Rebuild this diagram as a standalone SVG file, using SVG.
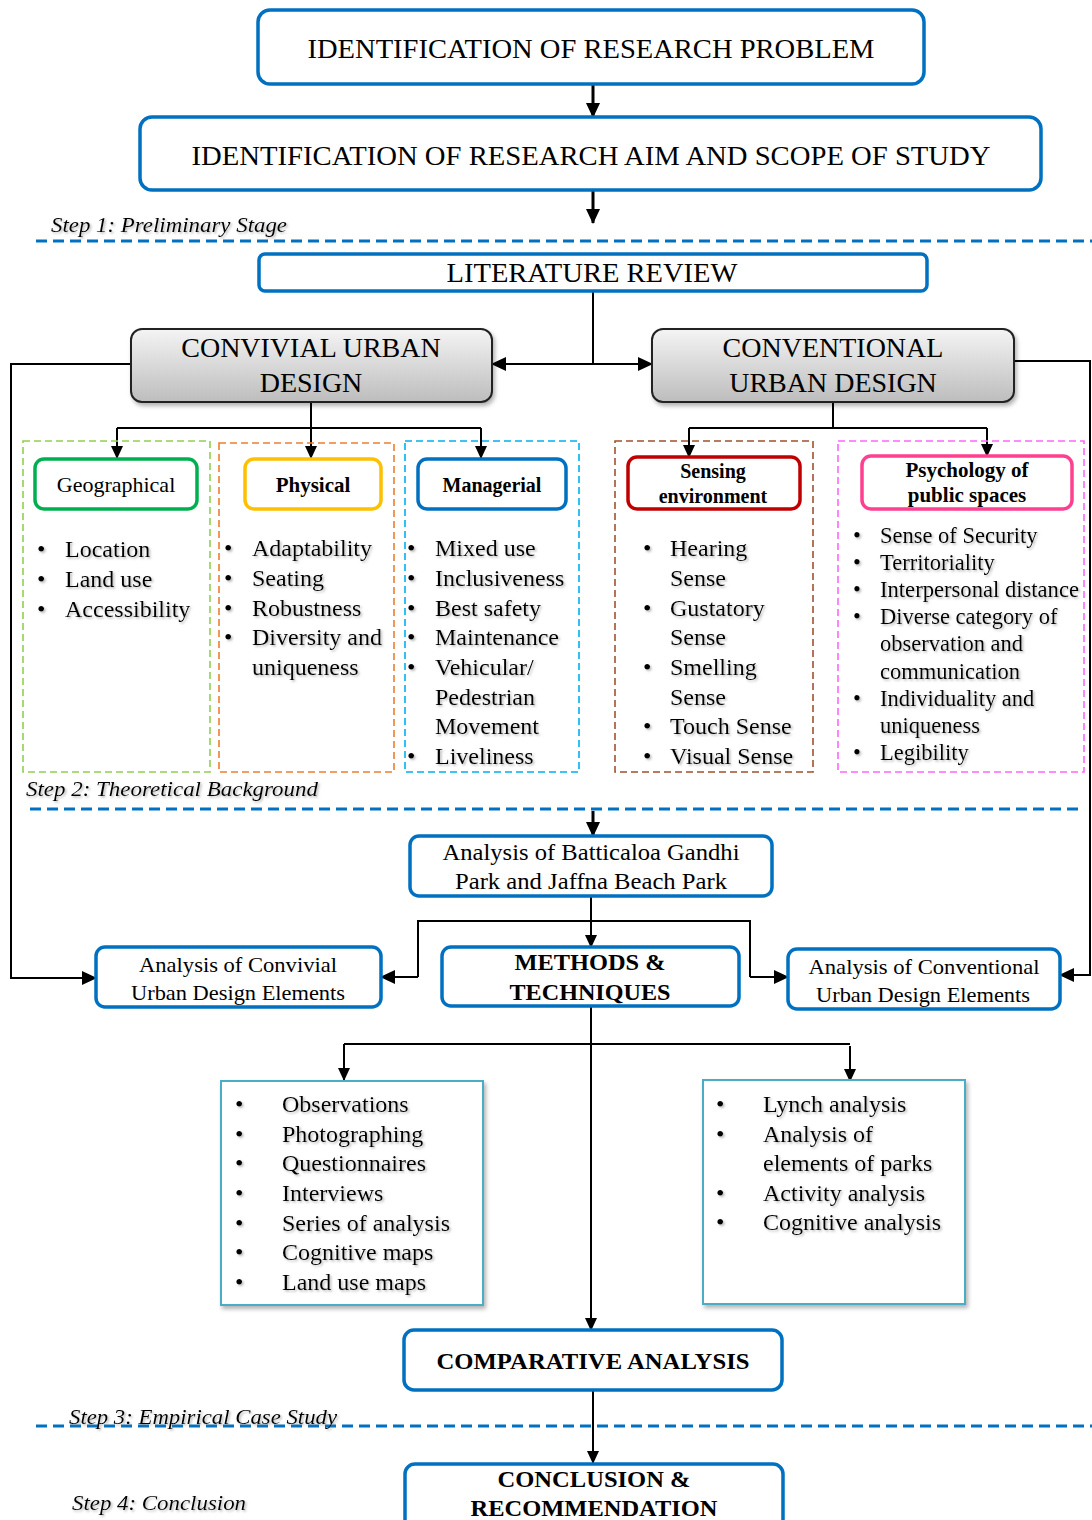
<svg xmlns="http://www.w3.org/2000/svg" width="1092" height="1520" viewBox="0 0 1092 1520">
<defs>
  <marker id="ah" markerUnits="userSpaceOnUse" markerWidth="16" markerHeight="14" refX="14" refY="7" orient="auto">
    <path d="M0,0 L15,7 L0,14 z" fill="#000"/>
  </marker>
  <marker id="ahs" markerUnits="userSpaceOnUse" markerWidth="14" markerHeight="12" refX="12" refY="6" orient="auto">
    <path d="M0,0 L13,6 L0,12 z" fill="#000"/>
  </marker>
  <linearGradient id="gray" x1="0" y1="0" x2="0" y2="1">
    <stop offset="0" stop-color="#F4F4F4"/>
    <stop offset="1" stop-color="#BDBDBD"/>
  </linearGradient>
  <filter id="bs" x="-10%" y="-10%" width="130%" height="140%">
    <feDropShadow dx="2" dy="3" stdDeviation="2" flood-color="#000" flood-opacity="0.3"/>
  </filter>
  <filter id="ts" x="-5%" y="-20%" width="115%" height="150%">
    <feDropShadow dx="1.5" dy="1.5" stdDeviation="1" flood-color="#777" flood-opacity="0.55"/>
  </filter>
</defs>
<style>
  text { font-family: 'Liberation Serif', 'DejaVu Serif', serif; fill: #000; }
  .b { font-weight: bold; }
  .it { font-style: italic; }
  .mid { text-anchor: middle; }
  .blue { fill: #fff; stroke: #0070C0; stroke-width: 3.5; }
  .grey { fill: url(#gray); stroke: #222; stroke-width: 2; }
  .dash { fill: none; stroke-width: 1.6; stroke-dasharray: 7 4; }
  .sep { fill: none; stroke: #0070C0; stroke-width: 3; stroke-dasharray: 11 6; }
  .c { fill: none; stroke: #000; stroke-width: 2; }
  .ct { fill: none; stroke: #000; stroke-width: 3; }
  .lst { fill: #fff; stroke: #4BACC6; stroke-width: 2; }
  .li { font-size: 24px; }
  .ps { font-size: 22.5px; }
</style>

<!-- step separators and labels -->
<g id="separators">
  <line class="sep" x1="36" y1="241" x2="1092" y2="241"/>
  <line class="sep" x1="30" y1="809" x2="1078" y2="809"/>
  <line class="sep" x1="36" y1="1426" x2="1092" y2="1426" stroke-width="2.5"/>
  <text class="it" x="51" y="232" font-size="21" textLength="236" lengthAdjust="spacingAndGlyphs" filter="url(#ts)">Step 1: Preliminary Stage</text>
  <text class="it" x="26" y="796" font-size="22" textLength="292" lengthAdjust="spacingAndGlyphs" filter="url(#ts)">Step 2: Theoretical Background</text>
  <text class="it" x="69" y="1424" font-size="21" textLength="268" lengthAdjust="spacingAndGlyphs" filter="url(#ts)">Step 3: Empirical Case Study</text>
  <text class="it" x="72" y="1510" font-size="21" textLength="174" lengthAdjust="spacingAndGlyphs" filter="url(#ts)">Step 4: Conclusion</text>
</g>

<!-- connectors -->
<g id="connectors">
  <line class="ct" x1="593" y1="84" x2="593" y2="117" marker-end="url(#ah)"/>
  <line class="ct" x1="593" y1="190" x2="593" y2="223" marker-end="url(#ah)"/>
  <path class="c" d="M593,291 V364 H492" marker-end="url(#ah)"/>
  <path class="c" d="M593,364 H652" marker-end="url(#ah)"/>
  <path class="c" d="M131,364 H11 V978 H96" marker-end="url(#ah)"/>
  <path class="c" d="M1014,361 H1090 V975 H1060" marker-end="url(#ah)"/>
  <path class="c" d="M311,402 V428 M117,428 H481"/>
  <path class="c" d="M117,428 V458" marker-end="url(#ahs)"/>
  <path class="c" d="M311,428 V458" marker-end="url(#ahs)"/>
  <path class="c" d="M481,428 V458" marker-end="url(#ahs)"/>
  <path class="c" d="M833,402 V428 M689,428 H987"/>
  <path class="c" d="M689,428 V457" marker-end="url(#ahs)"/>
  <path class="c" d="M987,428 V456" marker-end="url(#ahs)"/>
  <line class="ct" x1="593" y1="811" x2="593" y2="836" marker-end="url(#ah)"/>
  <line class="c" x1="591" y1="896" x2="591" y2="947" marker-end="url(#ahs)"/>
  <path class="c" d="M418,977 V921 H750 V977"/>
  <path class="c" d="M418,977 H381" marker-end="url(#ah)"/>
  <path class="c" d="M750,977 H788" marker-end="url(#ah)"/>
  <line class="c" x1="591" y1="1006" x2="591" y2="1330" marker-end="url(#ahs)"/>
  <path class="c" d="M344,1044 H850"/>
  <path class="c" d="M344,1044 V1080" marker-end="url(#ahs)"/>
  <path class="c" d="M850,1046 V1081" marker-end="url(#ahs)"/>
  <line class="c" x1="593" y1="1390" x2="593" y2="1463" marker-end="url(#ahs)"/>
</g>

<g id="research-problem">
  <rect class="blue" x="258" y="10" width="666" height="74" rx="12"/>
  <text class="mid" x="591" y="58" font-size="28" textLength="567" lengthAdjust="spacingAndGlyphs">IDENTIFICATION OF RESEARCH PROBLEM</text>
</g>
<g id="research-aim">
  <rect class="blue" x="140" y="117" width="901" height="73" rx="12"/>
  <text class="mid" x="591" y="165" font-size="28" textLength="799" lengthAdjust="spacingAndGlyphs">IDENTIFICATION OF RESEARCH AIM AND SCOPE OF STUDY</text>
</g>
<g id="literature-review">
  <rect class="blue" x="259" y="254" width="668" height="37" rx="6"/>
  <text class="mid" x="592" y="282" font-size="28" textLength="291" lengthAdjust="spacingAndGlyphs">LITERATURE REVIEW</text>
</g>
<g id="convivial">
  <rect class="grey" x="131" y="329" width="361" height="73" rx="11" filter="url(#bs)"/>
  <text class="mid" x="311" y="357" font-size="28">CONVIVIAL URBAN</text>
  <text class="mid" x="311" y="392" font-size="28">DESIGN</text>
</g>
<g id="conventional">
  <rect class="grey" x="652" y="329" width="362" height="73" rx="11" filter="url(#bs)"/>
  <text class="mid" x="833" y="357" font-size="28">CONVENTIONAL</text>
  <text class="mid" x="833" y="392" font-size="28">URBAN DESIGN</text>
</g>

<g id="geographical">
  <rect class="dash" x="23" y="441" width="187" height="331" stroke="#92D050"/>
  <rect x="35" y="459" width="162" height="50" rx="9" fill="#fff" stroke="#00B050" stroke-width="3.5"/>
  <text class="mid" x="116" y="492" font-size="22">Geographical</text>
  <g class="li" filter="url(#ts)">
    <text x="37" y="557">•</text><text x="65" y="557">Location</text>
    <text x="37" y="587">•</text><text x="65" y="587">Land use</text>
    <text x="37" y="617">•</text><text x="65" y="617">Accessibility</text>
  </g>
</g>
<g id="physical">
  <rect class="dash" x="219" y="443" width="175" height="329" stroke="#ED7D31"/>
  <rect x="245" y="459" width="136" height="50" rx="9" fill="#fff" stroke="#FFC000" stroke-width="3.5"/>
  <text class="b mid" x="313" y="492" font-size="21">Physical</text>
  <g class="li" filter="url(#ts)">
    <text x="224" y="556">•</text><text x="252" y="556">Adaptability</text>
    <text x="224" y="586">•</text><text x="252" y="586">Seating</text>
    <text x="224" y="616">•</text><text x="252" y="616">Robustness</text>
    <text x="224" y="645">•</text><text x="252" y="645">Diversity and</text>
    <text x="252" y="675">uniqueness</text>
  </g>
</g>
<g id="managerial">
  <rect class="dash" x="405" y="441" width="174" height="331" stroke="#00B0F0"/>
  <rect x="418" y="459" width="148" height="50" rx="9" fill="#fff" stroke="#0070C0" stroke-width="3.5"/>
  <text class="b mid" x="492" y="492" font-size="20">Managerial</text>
  <g class="li" filter="url(#ts)">
    <text x="407" y="556">•</text><text x="435" y="556">Mixed use</text>
    <text x="407" y="586">•</text><text x="435" y="586">Inclusiveness</text>
    <text x="407" y="616">•</text><text x="435" y="616">Best safety</text>
    <text x="407" y="645">•</text><text x="435" y="645">Maintenance</text>
    <text x="407" y="675">•</text><text x="435" y="675">Vehicular/</text>
    <text x="435" y="705">Pedestrian</text>
    <text x="435" y="734">Movement</text>
    <text x="407" y="764">•</text><text x="435" y="764">Liveliness</text>
  </g>
</g>
<g id="sensing">
  <rect class="dash" x="615" y="441" width="198" height="331" stroke="#A0522D"/>
  <rect x="628" y="457" width="172" height="52" rx="9" fill="#fff" stroke="#C00000" stroke-width="3.5"/>
  <text class="b mid" x="713" y="478" font-size="20">Sensing</text>
  <text class="b mid" x="713" y="503" font-size="20">environment</text>
  <g class="li" filter="url(#ts)">
    <text x="643" y="556">•</text><text x="670" y="556">Hearing</text>
    <text x="670" y="586">Sense</text>
    <text x="643" y="616">•</text><text x="670" y="616">Gustatory</text>
    <text x="670" y="645">Sense</text>
    <text x="643" y="675">•</text><text x="670" y="675">Smelling</text>
    <text x="670" y="705">Sense</text>
    <text x="643" y="734">•</text><text x="670" y="734">Touch Sense</text>
    <text x="643" y="764">•</text><text x="670" y="764">Visual Sense</text>
  </g>
</g>
<g id="psychology">
  <rect class="dash" x="838" y="441" width="246" height="331" stroke="#FF66FF"/>
  <rect x="862" y="456" width="210" height="53" rx="9" fill="#fff" stroke="#FF3F8F" stroke-width="3.5"/>
  <text class="b mid" x="967" y="477" font-size="21">Psychology of</text>
  <text class="b mid" x="967" y="502" font-size="21">public spaces</text>
  <g class="ps" filter="url(#ts)">
    <text x="853" y="543">•</text><text x="880" y="543">Sense of Security</text>
    <text x="853" y="570">•</text><text x="880" y="570">Territoriality</text>
    <text x="853" y="597">•</text><text x="880" y="597" textLength="199" lengthAdjust="spacingAndGlyphs">Interpersonal distance</text>
    <text x="853" y="624">•</text><text x="880" y="624">Diverse category of</text>
    <text x="880" y="651">observation and</text>
    <text x="880" y="679">communication</text>
    <text x="853" y="706">•</text><text x="880" y="706">Individuality and</text>
    <text x="880" y="733">uniqueness</text>
    <text x="853" y="760">•</text><text x="880" y="760">Legibility</text>
  </g>
</g>

<g id="case-analysis">
  <rect class="blue" x="410" y="836" width="362" height="60" rx="9" stroke-width="3"/>
  <text class="mid" x="591" y="860" font-size="23" textLength="297" lengthAdjust="spacingAndGlyphs">Analysis of Batticaloa  Gandhi</text>
  <text class="mid" x="591" y="889" font-size="23" textLength="272" lengthAdjust="spacingAndGlyphs">Park and Jaffna Beach Park</text>
</g>
<g id="convivial-analysis">
  <rect class="blue" x="96" y="947" width="285" height="60" rx="9" stroke-width="3"/>
  <text class="mid" x="238" y="972" font-size="21" textLength="198" lengthAdjust="spacingAndGlyphs">Analysis of Convivial</text>
  <text class="mid" x="238" y="1000" font-size="21" textLength="214" lengthAdjust="spacingAndGlyphs">Urban Design Elements</text>
</g>
<g id="methods">
  <rect class="blue" x="442" y="947" width="297" height="59" rx="9" stroke-width="3"/>
  <text class="b mid" x="590" y="970" font-size="23.5" textLength="151" lengthAdjust="spacingAndGlyphs">METHODS &amp;</text>
  <text class="b mid" x="590" y="1000" font-size="23.5" textLength="161" lengthAdjust="spacingAndGlyphs">TECHNIQUES</text>
</g>
<g id="conventional-analysis">
  <rect class="blue" x="788" y="949" width="272" height="60" rx="9" stroke-width="3"/>
  <text class="mid" x="924" y="974" font-size="21" textLength="231" lengthAdjust="spacingAndGlyphs">Analysis of Conventional</text>
  <text class="mid" x="923" y="1002" font-size="21" textLength="214" lengthAdjust="spacingAndGlyphs">Urban Design Elements</text>
</g>

<g id="methods-list">
  <rect class="lst" x="221" y="1081" width="262" height="224" filter="url(#bs)"/>
  <g class="li" filter="url(#ts)">
    <text x="235" y="1112">•</text><text x="282" y="1112">Observations</text>
    <text x="235" y="1142">•</text><text x="282" y="1142">Photographing</text>
    <text x="235" y="1171">•</text><text x="282" y="1171">Questionnaires</text>
    <text x="235" y="1201">•</text><text x="282" y="1201">Interviews</text>
    <text x="235" y="1231">•</text><text x="282" y="1231">Series of analysis</text>
    <text x="235" y="1260">•</text><text x="282" y="1260">Cognitive maps</text>
    <text x="235" y="1290">•</text><text x="282" y="1290">Land use maps</text>
  </g>
</g>
<g id="analysis-list">
  <rect class="lst" x="703" y="1080" width="262" height="224" filter="url(#bs)"/>
  <g class="li" filter="url(#ts)">
    <text x="716" y="1112">•</text><text x="763" y="1112">Lynch analysis</text>
    <text x="716" y="1142">•</text><text x="763" y="1142">Analysis of</text>
    <text x="763" y="1171">elements of parks</text>
    <text x="716" y="1201">•</text><text x="763" y="1201">Activity analysis</text>
    <text x="716" y="1230">•</text><text x="763" y="1230">Cognitive analysis</text>
  </g>
</g>

<g id="comparative">
  <rect class="blue" x="404" y="1330" width="378" height="60" rx="10"/>
  <text class="b mid" x="593" y="1369" font-size="23" textLength="313" lengthAdjust="spacingAndGlyphs">COMPARATIVE ANALYSIS</text>
</g>
<g id="conclusion">
  <rect class="blue" x="405" y="1464" width="378" height="70" rx="10"/>
  <text class="b mid" x="594" y="1487" font-size="24" textLength="193" lengthAdjust="spacingAndGlyphs">CONCLUSION &amp;</text>
  <text class="b mid" x="594" y="1516" font-size="24" textLength="247" lengthAdjust="spacingAndGlyphs">RECOMMENDATION</text>
</g>
</svg>
